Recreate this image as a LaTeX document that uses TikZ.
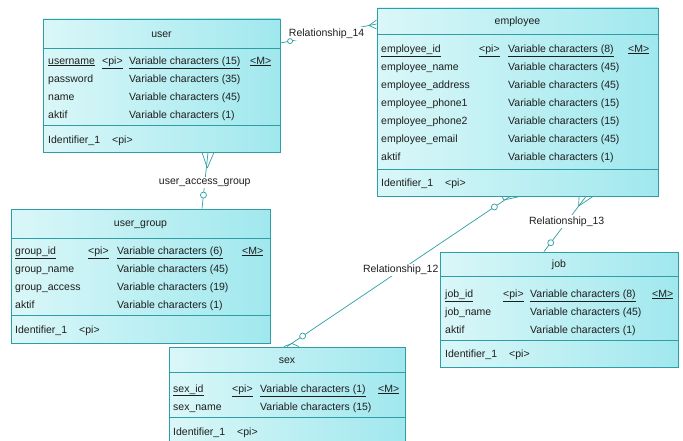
\documentclass[tikz,border=0pt]{standalone}
\usepackage{fontspec}
\setmainfont{Liberation Sans}
\usetikzlibrary{fit}

\definecolor{erline}{RGB}{45,158,165}
\definecolor{erfillL}{RGB}{218,247,248}
\definecolor{erfillR}{RGB}{160,232,238}
\definecolor{ertext}{RGB}{30,30,30}

\tikzset{
  entbox/.style={draw=erline, line width=0.9pt, left color=erfillL, right color=erfillR, inner sep=0pt},
  sepline/.style={draw=erline, line width=0.8pt},
  erfont/.style={font=\fontsize{10.5}{12}\selectfont, text=ertext},
  enttitle/.style={erfont, inner sep=0pt, yshift=-1pt},
  cell/.style={erfont, inner sep=0pt, anchor=mid west, yshift=-1.5pt},
  relline/.style={draw=erline, line width=0.7pt},
  rellabel/.style={erfont, fill=white, inner sep=1.5pt},
  optcircle/.style={draw=erline, line width=0.7pt, fill=white, circle, inner sep=0pt, minimum size=6pt},
}

% entity frame: name, left, top, right, bottom, title separator, identifier separator, title
\newcommand\erentity[8]{%
  \node[entbox, fit={(#2,#3) (#4,#5)}] (#1) {};
  \draw[sepline] (#2,#6) -- (#4,#6);
  \draw[sepline] (#2,#7) -- (#4,#7);
  \node[enttitle] (#1-title) at ({(#2+#4)/2},{(#3+#6)/2}) {#8};
}
% primary key row: entity, y, name, type
\newcommand\pkrow[4]{%
  \node[cell] (#1-pk) at (\cA,#2) {\underline{#3}};
  \node[cell] (#1-pi) at (\cB,#2) {\underline{<pi>}};
  \node[cell] (#1-pktype) at (\cC,#2) {\underline{#4}};
  \node[cell] (#1-m) at (\cD,#2) {\underline{<M>}};
}
% plain attribute row: entity, index, y, name, type
\newcommand\attrow[5]{%
  \node[cell] (#1-a#2) at (\cA,#3) {#4};
  \node[cell] (#1-t#2) at (\cC,#3) {#5};
}
% identifier row: entity, y
\newcommand\idrow[2]{%
  \node[cell] (#1-id) at (\cA,#2) {Identifier\_1};
  \node[cell] (#1-idpi) at (\cA+64,#2) {<pi>};
}

\begin{document}
\begin{tikzpicture}[x=1pt, y=-1pt]
\useasboundingbox (0,0) rectangle (683,441);
\fill[white] (0,0) rectangle (683,441);

% ---------- user ----------
\erentity{user}{43}{19}{280}{152}{48}{125}{user}
\def\cA{48}\def\cB{102}\def\cC{129}\def\cD{250}
\pkrow{user}{60}{username}{Variable characters (15)}
\attrow{user}{1}{78}{password}{Variable characters (35)}
\attrow{user}{2}{96}{name}{Variable characters (45)}
\attrow{user}{3}{114}{aktif}{Variable characters (1)}
\idrow{user}{139}

% ---------- employee ----------
\erentity{employee}{377}{8}{658}{196}{34}{169}{employee}
\def\cA{381}\def\cB{479}\def\cC{508}\def\cD{628}
\pkrow{employee}{48}{employee\_id}{Variable characters (8)}
\attrow{employee}{1}{66}{employee\_name}{Variable characters (45)}
\attrow{employee}{2}{84}{employee\_address}{Variable characters (45)}
\attrow{employee}{3}{102}{employee\_phone1}{Variable characters (15)}
\attrow{employee}{4}{120}{employee\_phone2}{Variable characters (15)}
\attrow{employee}{5}{138}{employee\_email}{Variable characters (45)}
\attrow{employee}{6}{156}{aktif}{Variable characters (1)}
\idrow{employee}{182}

% ---------- user_group ----------
\erentity{user_group}{11}{209}{270}{343}{238}{315}{user\_group}
\def\cA{15}\def\cB{88}\def\cC{117}\def\cD{242}
\pkrow{user_group}{250}{group\_id}{Variable characters (6)}
\attrow{user_group}{1}{268}{group\_name}{Variable characters (45)}
\attrow{user_group}{2}{286}{group\_access}{Variable characters (19)}
\attrow{user_group}{3}{304}{aktif}{Variable characters (1)}
\idrow{user_group}{329}

% ---------- job ----------
\erentity{job}{440}{252}{678}{367}{276}{340}{job}
\def\cA{445}\def\cB{503}\def\cC{530}\def\cD{652}
\pkrow{job}{293}{job\_id}{Variable characters (8)}
\attrow{job}{1}{311}{job\_name}{Variable characters (45)}
\attrow{job}{2}{329}{aktif}{Variable characters (1)}
\idrow{job}{353}

% ---------- sex ----------
\erentity{sex}{169}{347}{405}{446}{372}{417}{sex}
\def\cA{173}\def\cB{232}\def\cC{260}\def\cD{378}
\pkrow{sex}{388}{sex\_id}{Variable characters (1)}
\attrow{sex}{1}{406}{sex\_name}{Variable characters (15)}
\idrow{sex}{431}

% ---------- Relationship_14 : user -- employee ----------
\draw[relline] (user.east |- 0,43) -- node[rellabel, pos=0.48] (rel14) {Relationship\_14}
  node[optcircle, pos=0.1, minimum size=5pt] (rel14-o) {} (employee.west |- 0,24);
\coordinate (rel14-cf) at (369,25.5);
\draw[relline] (rel14-cf) -- (employee.west |- 0,20);
\draw[relline] (rel14-cf) -- (employee.west |- 0,29);

% ---------- user_access_group : user -- user_group ----------
\draw[relline] (user.south -| 208,0) -- node[rellabel, pos=0.54] (reluag) {user\_access\_group}
  node[optcircle, pos=0.76] (reluag-o) {} (user_group.north -| 202,0);
\coordinate (reluag-cf) at (207.3,168);
\draw[relline] (reluag-cf) -- (user.south -| 202,0);
\draw[relline] (reluag-cf) -- (user.south -| 214,0);

% ---------- Relationship_12 : employee -- sex ----------
\draw[relline] (employee.south -| 510,0) -- node[rellabel, pos=0.49] (rel12) {Relationship\_12}
  node[optcircle, pos=0.07] (rel12-o1) {}
  node[optcircle, pos=0.93] (rel12-o2) {} (sex.north -| 287,0);
\coordinate (rel12-cf1) at (504,200);
\draw[relline] (rel12-cf1) -- (employee.south -| 502,0);
\draw[relline] (rel12-cf1) -- (employee.south -| 520,0);
\coordinate (rel12-cf2) at (292,343.5);
\draw[relline] (rel12-cf2) -- (sex.north -| 284,0);
\draw[relline] (rel12-cf2) -- (sex.north -| 299,0);

% ---------- Relationship_13 : employee -- job ----------
\draw[relline] (employee.south -| 586,0) -- node[rellabel, pos=0.46] (rel13) {Relationship\_13}
  node[optcircle, pos=0.84] (rel13-o) {} (job.north -| 544,0);
\coordinate (rel13-cf) at (578.7,206);
\draw[relline] (rel13-cf) -- (employee.south -| 579,0);
\draw[relline] (rel13-cf) -- (employee.south -| 593,0);
\end{tikzpicture}
\end{document}
